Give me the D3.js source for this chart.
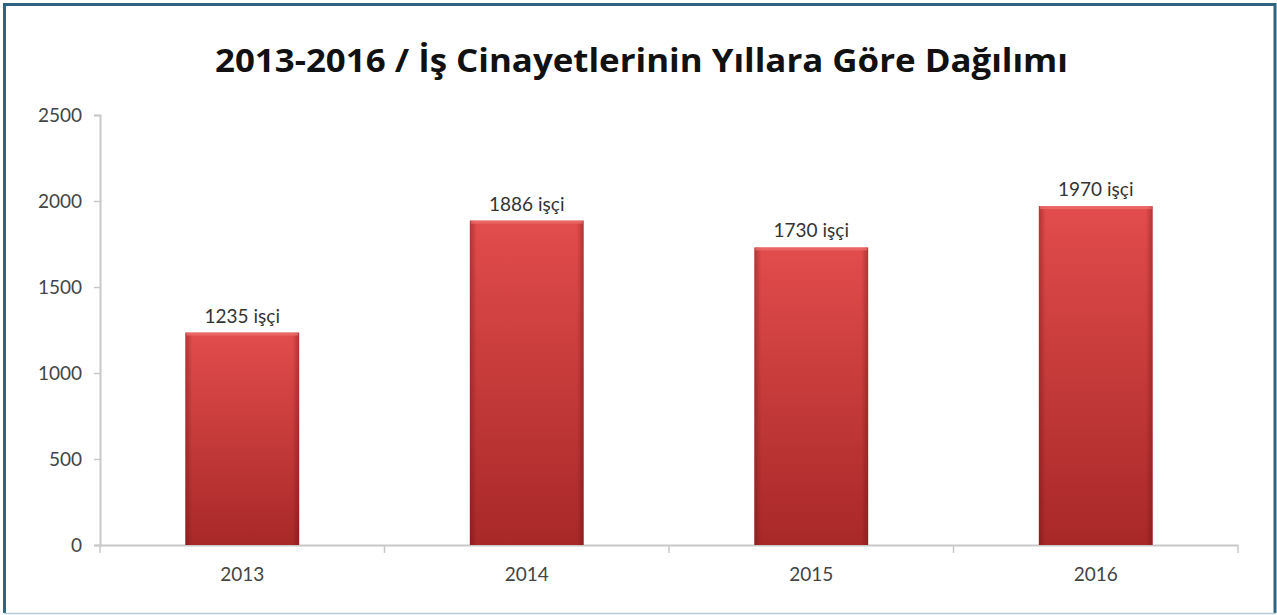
<!DOCTYPE html>
<html><head><meta charset="utf-8">
<script src="https://cdn.jsdelivr.net/npm/d3@7"></script>
<style>html,body{margin:0;padding:0;background:#fff;}svg{display:block;}</style>
</head><body>
<svg id="c" width="1277" height="615"></svg>
<script>
const years = ["2013","2014","2015","2016"];
const values = [1235,1886,1730,1970];
const labels = ["1235 işçi","1886 işçi","1730 işçi","1970 işçi"];
const yTicks = [0,500,1000,1500,2000,2500];
const title = "2013-2016 / İş Cinayetlerinin Yıllara Göre Dağılımı";

const svg = d3.select("#c");
const W = 1277, H = 615;
const m = {left:100, right:1238, top:115, bottom:545};
const FONT = "Lato, 'Open Sans', sans-serif";

svg.append("rect").attr("x",0).attr("y",0).attr("width",W).attr("height",H).attr("fill","#fff");

const defs = svg.append("defs");
const gv = defs.append("linearGradient").attr("id","gv").attr("x1",0).attr("y1",0).attr("x2",0).attr("y2",1);
gv.append("stop").attr("offset","0%").attr("stop-color","#e24c4c");
gv.append("stop").attr("offset","100%").attr("stop-color","#a82828");
const gh = defs.append("linearGradient").attr("id","gh").attr("x1",0).attr("y1",0).attr("x2",1).attr("y2",0);
gh.append("stop").attr("offset","0%").attr("stop-color","#5a0a0a").attr("stop-opacity",0.35);
gh.append("stop").attr("offset","6%").attr("stop-color","#5a0a0a").attr("stop-opacity",0);
gh.append("stop").attr("offset","94%").attr("stop-color","#5a0a0a").attr("stop-opacity",0);
gh.append("stop").attr("offset","100%").attr("stop-color","#5a0a0a").attr("stop-opacity",0.35);

const x = d3.scaleBand().domain(years).range([m.left, m.right]).paddingInner(0.6).paddingOuter(0.3);
const y = d3.scaleLinear().domain([0,2500]).range([m.bottom, m.top]);

// title
svg.append("text").attr("x",215).attr("y",72).attr("text-anchor","start")
  .attr("font-family","'Open Sans', Lato, sans-serif").attr("font-weight","bold")
  .attr("font-size",33).attr("fill","#111")
  .attr("textLength",853).attr("lengthAdjust","spacingAndGlyphs").text(title);

// y axis
const ya = svg.append("g").attr("transform",`translate(${m.left},0)`)
  .call(d3.axisLeft(y).tickValues(yTicks).tickFormat(d3.format("d")).tickSize(6).tickPadding(12));
ya.select(".domain").attr("stroke","#c8c8c8").attr("stroke-width",2);
ya.selectAll(".tick line").attr("stroke","#c8c8c8").attr("stroke-width",1.5);
ya.selectAll("text").attr("font-family",FONT).attr("font-size",19).attr("fill","#444");

// x axis
const xa = svg.append("g").attr("transform",`translate(0,${m.bottom})`)
  .call(d3.axisBottom(x).tickSize(0).tickPadding(23));
xa.select(".domain").attr("stroke","#c8c8c8").attr("stroke-width",2);
xa.selectAll("text").attr("font-family",FONT).attr("font-size",19).attr("fill","#444");
const step = (m.right - m.left)/years.length;
xa.selectAll("line.sep").data(d3.range(years.length+1)).enter().append("line").attr("class","sep")
  .attr("x1",i=>m.left+i*step).attr("x2",i=>m.left+i*step).attr("y1",0).attr("y2",8)
  .attr("stroke","#c8c8c8").attr("stroke-width",1.5);

// bars
const bars = svg.append("g");
bars.selectAll("rect.b").data(values).enter().append("rect").attr("class","b")
  .attr("x",(d,i)=>x(years[i])).attr("width",x.bandwidth())
  .attr("y",d=>y(d)).attr("height",d=>y(0)-y(d)).attr("fill","url(#gv)");
bars.selectAll("rect.e").data(values).enter().append("rect").attr("class","e")
  .attr("x",(d,i)=>x(years[i])).attr("width",x.bandwidth())
  .attr("y",d=>y(d)).attr("height",d=>y(0)-y(d)).attr("fill","url(#gh)");
bars.selectAll("rect.t").data(values).enter().append("rect").attr("class","t")
  .attr("x",(d,i)=>x(years[i])+1).attr("width",x.bandwidth()-2)
  .attr("y",d=>y(d)).attr("height",3).attr("fill","#f07070").attr("opacity",0.7);

// value labels
svg.append("g").selectAll("text").data(values).enter().append("text")
  .attr("x",(d,i)=>x(years[i])+x.bandwidth()/2).attr("y",d=>y(d)-10)
  .attr("text-anchor","middle").attr("font-family",FONT)
  .attr("font-size",19).attr("fill","#333").text((d,i)=>labels[i]);

// border
svg.append("line").attr("x1",4).attr("y1",4.5).attr("x2",1276).attr("y2",4.5).attr("stroke","#2f6580").attr("stroke-width",3);
svg.append("line").attr("x1",4.5).attr("y1",3).attr("x2",4.5).attr("y2",613).attr("stroke","#2f6580").attr("stroke-width",3);
svg.append("line").attr("x1",1275).attr("y1",3).attr("x2",1275).attr("y2",613).attr("stroke","#2f6580").attr("stroke-width",3);
svg.append("line").attr("x1",4).attr("y1",613.5).attr("x2",1276).attr("y2",613.5).attr("stroke","#b8ccd8").attr("stroke-width",1.5);
</script>
</body></html>
